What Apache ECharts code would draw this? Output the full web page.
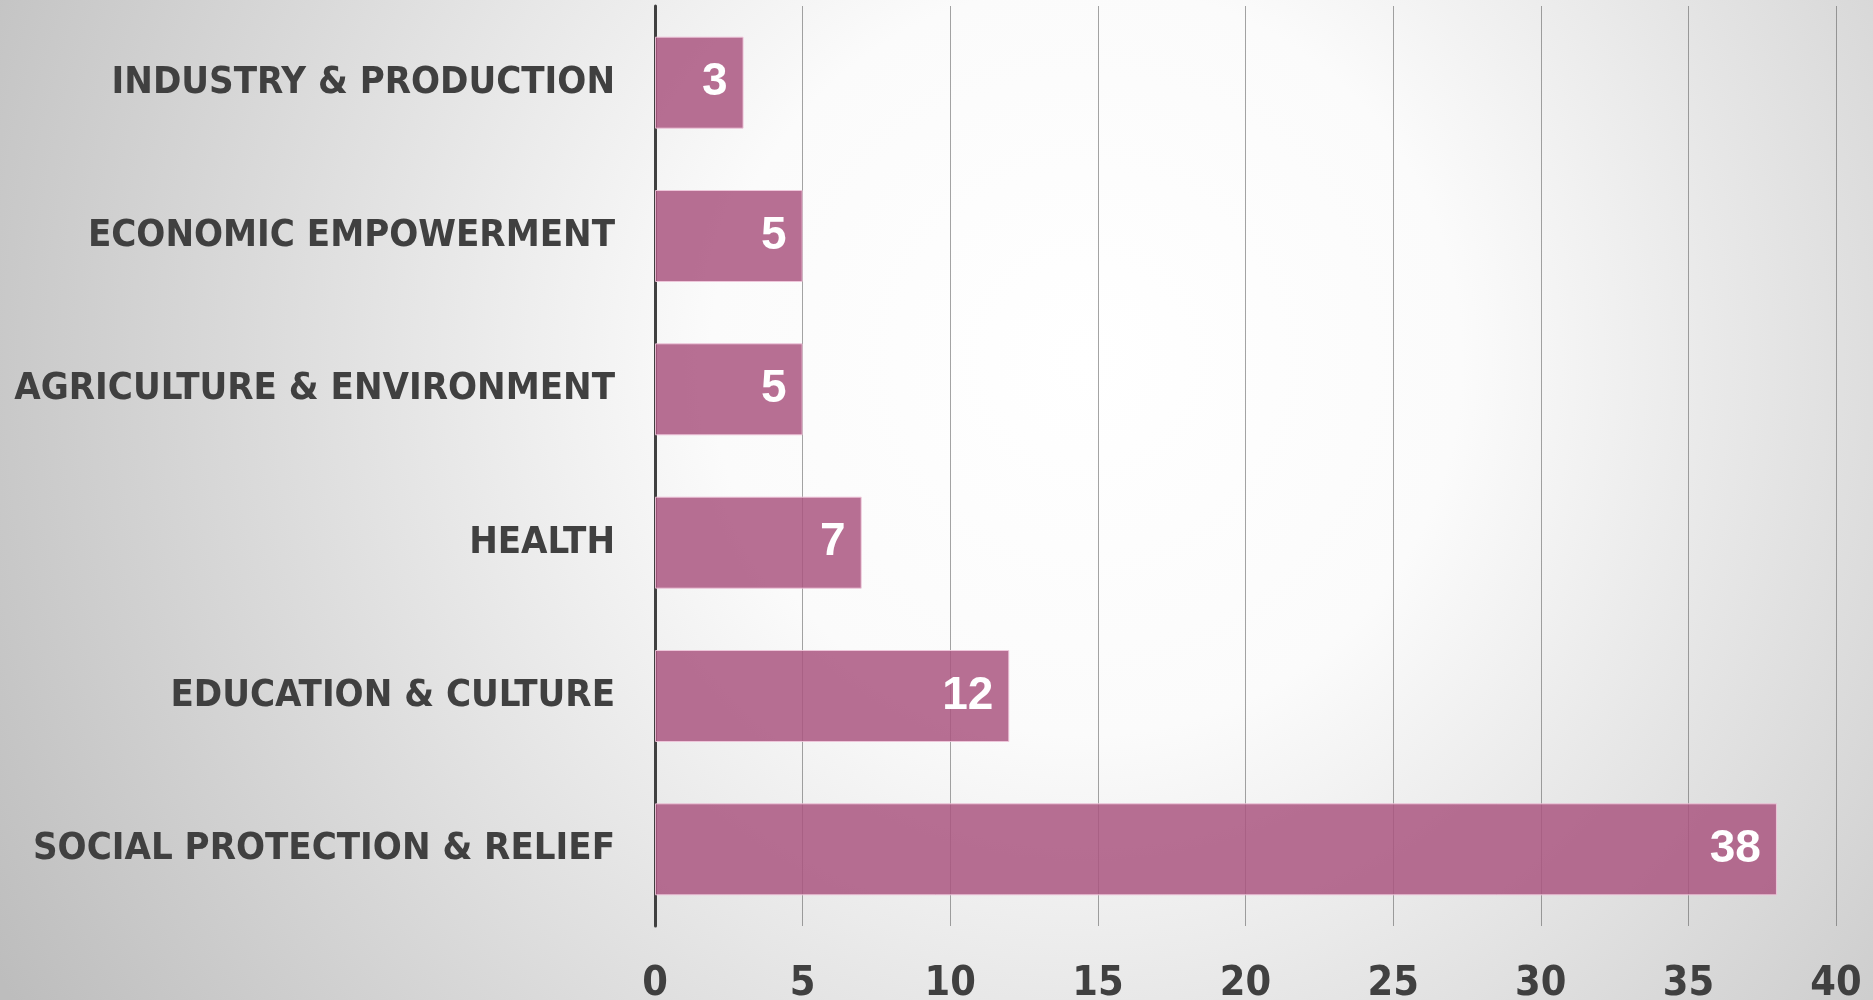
<!DOCTYPE html>
<html>
<head>
<meta charset="utf-8">
<script src="https://cdn.jsdelivr.net/npm/echarts@6/dist/echarts.min.js"></script>
<style>
  html, body { margin: 0; padding: 0; }
  #chart { width: 1873px; height: 1000px; }
</style>
</head>
<body>
<div id="chart"></div>
<script>
const categories = [
  'INDUSTRY & PRODUCTION',
  'ECONOMIC EMPOWERMENT',
  'AGRICULTURE & ENVIRONMENT',
  'HEALTH',
  'EDUCATION & CULTURE',
  'SOCIAL PROTECTION & RELIEF'
]
const counts = [3, 5, 5, 7, 12, 38]

// narrow bold face for the axis text
const labelFont = '"Liberation Sans Narrow", "DejaVu Sans Condensed", Arial, sans-serif'

const chart = echarts.init(document.getElementById('chart'))

chart.setOption({
  animation: false,
  backgroundColor: {
    type: 'radial',
    x: 0.58,
    y: 0.36,
    r: 1.25,
    colorStops: [
      { offset: 0, color: '#ffffff' },
      { offset: 0.3, color: '#fbfbfb' },
      { offset: 1, color: '#bdbdbd' }
    ]
  },
  grid: { left: 655, right: 37, top: 6, bottom: 74, outerBoundsMode: 'none', containLabel: false },
  xAxis: {
    type: 'value',
    min: 0,
    max: 40,
    interval: 5,
    axisLine: { show: false },
    axisTick: { show: false },
    axisLabel: {
      margin: 38,
      fontFamily: labelFont,
      fontWeight: 'bold',
      fontSize: 41,
      color: '#404040'
    },
    splitLine: { lineStyle: { color: 'rgba(90,90,90,0.55)', width: 1 } }
  },
  yAxis: {
    type: 'category',
    inverse: true,
    data: categories,
    axisLine: { lineStyle: { color: '#404040', width: 3 } },
    axisTick: { show: false },
    axisLabel: {
      margin: 40,
      fontFamily: labelFont,
      fontWeight: 'bold',
      fontSize: 38,
      color: '#404040'
    }
  },
  series: [{
    type: 'bar',
    data: counts,
    barCategoryGap: '40%',
    itemStyle: {
      color: 'rgba(170,86,128,0.85)',
      borderColor: 'rgba(240,200,220,0.9)',
      borderWidth: 1
    },
    label: {
      show: true,
      position: 'insideRight',
      distance: 16,
      color: '#ffffff',
      fontFamily: 'Liberation Sans, Arial, sans-serif',
      fontWeight: 'bold',
      fontSize: 46
    }
  }]
})
</script>
</body>
</html>
